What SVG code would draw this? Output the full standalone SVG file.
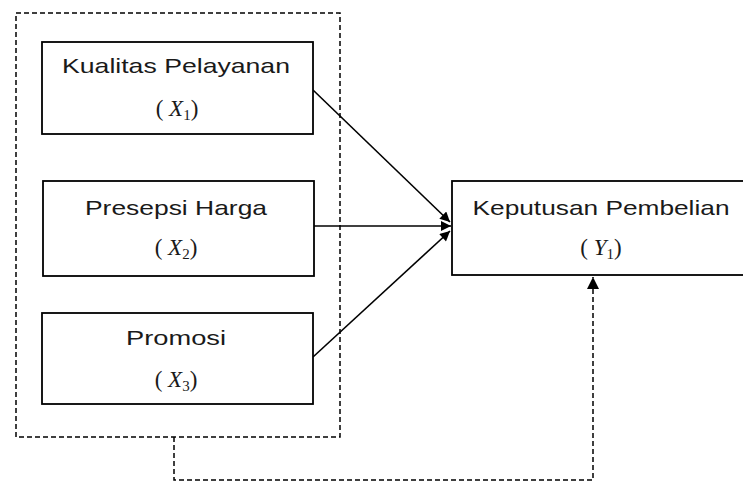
<svg xmlns="http://www.w3.org/2000/svg" width="743" height="482" viewBox="0 0 743 482">
<style>
.box{fill:#fff;stroke:#000;stroke-width:1.8}
.dash{fill:none;stroke:#000;stroke-width:1.5;stroke-dasharray:5,3}
.ln{fill:none;stroke:#000;stroke-width:1.6}
.t{font-family:"Liberation Sans",Arial,sans-serif;font-size:21px;fill:#1a1a1a;text-anchor:middle}
.m{font-family:"Liberation Serif","DejaVu Serif",serif;font-size:23px;fill:#1a1a1a;text-anchor:middle}
.i{font-style:italic}
.s{font-size:15px}
</style>
<defs>
<marker id="ah" viewBox="0 0 10 10" refX="10" refY="5" markerWidth="11" markerHeight="10" markerUnits="userSpaceOnUse" orient="auto">
<path d="M0,0 L10,5 L0,10 Z" fill="#000"/>
</marker>
<marker id="ah2" viewBox="0 0 10 10" refX="10" refY="5" markerWidth="13" markerHeight="12" markerUnits="userSpaceOnUse" orient="auto">
<path d="M0,0 L10,5 L0,10 Z" fill="#000"/>
</marker>
</defs>
<rect id="group-x" class="dash" x="16" y="13" width="324" height="424"/>
<g id="connectors">
<line class="ln" x1="313" y1="90" x2="450" y2="222" marker-end="url(#ah)"/>
<line class="ln" x1="314" y1="226" x2="451" y2="226" marker-end="url(#ah)"/>
<line class="ln" x1="313" y1="357" x2="450" y2="231" marker-end="url(#ah)"/>
<polyline class="dash" points="174,437 174,480 593,480 593,277" marker-end="url(#ah2)"/>
</g>
<g id="x1">
<rect class="box" x="42" y="42" width="271" height="92"/>
<text class="t" x="176" y="73" textLength="228" lengthAdjust="spacingAndGlyphs">Kualitas Pelayanan</text>
<text class="m" x="177" y="116">( <tspan class="i">X</tspan><tspan class="s" dy="4">1</tspan><tspan dy="-4">)</tspan></text>
</g>
<g id="x2">
<rect class="box" x="43" y="181" width="271" height="95"/>
<text class="t" x="176" y="215" textLength="182" lengthAdjust="spacingAndGlyphs">Presepsi Harga</text>
<text class="m" x="176" y="255">( <tspan class="i">X</tspan><tspan class="s" dy="4">2</tspan><tspan dy="-4">)</tspan></text>
</g>
<g id="x3">
<rect class="box" x="42" y="313" width="271" height="91"/>
<text class="t" x="176" y="345" textLength="100" lengthAdjust="spacingAndGlyphs">Promosi</text>
<text class="m" x="176" y="387">( <tspan class="i">X</tspan><tspan class="s" dy="4">3</tspan><tspan dy="-4">)</tspan></text>
</g>
<g id="y1">
<rect class="box" x="452" y="181" width="300" height="94"/>
<text class="t" x="601" y="215" textLength="257" lengthAdjust="spacingAndGlyphs">Keputusan Pembelian</text>
<text class="m" x="601" y="255">( <tspan class="i">Y</tspan><tspan class="s" dy="4">1</tspan><tspan dy="-4">)</tspan></text>
</g>
</svg>
